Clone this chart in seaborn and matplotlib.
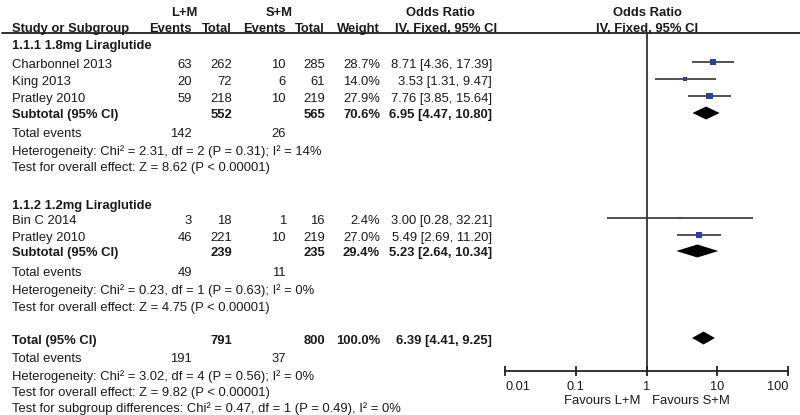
import numpy as np
import pandas as pd
import seaborn as sns
import matplotlib.pyplot as plt
from matplotlib.ticker import FixedLocator, FixedFormatter

sns.set_theme(style="white")
plt.rcParams['font.family'] = ['Liberation Sans', 'DejaVu Sans']

# ---- data ----
study = ["Charbonnel 2013", "King 2013", "Pratley 2010", "Bin C 2014", "Pratley 2010"]
group = [1, 1, 1, 2, 2]
ev_lm = [63, 20, 59, 3, 46]
tot_lm = [262, 72, 218, 18, 221]
ev_sm = [10, 6, 10, 1, 10]
tot_sm = [285, 61, 219, 16, 219]
weight = [28.7, 14.0, 27.9, 2.4, 27.0]
or_est = [8.71, 3.53, 7.76, 3.00, 5.49]
or_lo = [4.36, 1.31, 3.85, 0.28, 2.69]
or_hi = [17.39, 9.47, 15.64, 32.21, 11.20]

grp_title = ["1.1.1 1.8mg Liraglutide", "1.1.2 1.2mg Liraglutide"]
sub_tot_lm = [552, 239]
sub_tot_sm = [565, 235]
sub_weight = [70.6, 29.4]
sub_or = [6.95, 5.23]
sub_lo = [4.47, 2.64]
sub_hi = [10.80, 10.34]
sub_ev_lm = [142, 49]
sub_ev_sm = [26, 11]
sub_het = ["Heterogeneity: Chi² = 2.31, df = 2 (P = 0.31); I² = 14%",
           "Heterogeneity: Chi² = 0.23, df = 1 (P = 0.63); I² = 0%"]
sub_z = ["Test for overall effect: Z = 8.62 (P < 0.00001)",
         "Test for overall effect: Z = 4.75 (P < 0.00001)"]

all_tot_lm, all_tot_sm = 791, 800
all_weight = 100.0
all_or, all_lo, all_hi = 6.39, 4.41, 9.25
all_ev_lm, all_ev_sm = 191, 37
all_notes = ["Heterogeneity: Chi² = 3.02, df = 4 (P = 0.56); I² = 0%",
             "Test for overall effect: Z = 9.82 (P < 0.00001)",
             "Test for subgroup differences: Chi² = 0.47, df = 1 (P = 0.49), I² = 0%"]

ticks = [0.01, 0.1, 1, 10, 100]
tick_labels = ["0.01", "0.1", "1", "10", "100"]

# ---- layout (pixel rows) ----
W, H = 800, 415
study_y = [65, 82, 99, 221, 238]
grp_y = [46, 206]
sub_y = [115, 253]
subev_y = [134, 273]
het_y = [152, 291]
z_y = [168, 308]
tot_y = 341
totev_y, tothet_y, totz_y, subdiff_y = 359, 377, 393, 409
head_line = 33
axis_y = 371
x_left, x_right = 505, 788

col_evlm, col_totlm, col_evsm, col_totsm, col_w, col_or = 192, 232, 286, 325, 380, 492
txt = '#1a1a1a'
fs = 9.4

fig = plt.figure(figsize=(W / 100, H / 100), dpi=100)
ax_t = fig.add_axes([0, 0, 1, 1])
ax_t.set_xlim(0, W)
ax_t.set_ylim(H, 0)
ax_t.axis('off')


def t(x, y, s, ha='left', bold=False):
    ax_t.text(x, y, s, ha=ha, va='center', fontsize=fs, color=txt,
              fontweight='bold' if bold else 'normal')


# header
t(184, 13, "L+M", 'center', True)
t(279, 13, "S+M", 'center', True)
t(440, 13, "Odds Ratio", 'center', True)
t(647, 13, "Odds Ratio", 'center', True)
for x, s, ha in [(12, "Study or Subgroup", 'left'), (col_evlm, "Events", 'right'),
                 (col_totlm, "Total", 'right'), (col_evsm, "Events", 'right'),
                 (col_totsm, "Total", 'right'), (col_w, "Weight", 'right'),
                 (446, "IV, Fixed, 95% CI", 'center'), (647, "IV, Fixed, 95% CI", 'center')]:
    ax_t.text(x, 32, s, ha=ha, va='baseline', fontsize=fs, color=txt, fontweight='bold')
ax_t.plot([2, W], [head_line, head_line], color='#222222', lw=1.3)

# studies
for i in range(len(study)):
    y = study_y[i]
    t(12, y, study[i])
    t(col_evlm, y, str(ev_lm[i]), 'right')
    t(col_totlm, y, str(tot_lm[i]), 'right')
    t(col_evsm, y, str(ev_sm[i]), 'right')
    t(col_totsm, y, str(tot_sm[i]), 'right')
    t(col_w, y, f"{weight[i]:.1f}%", 'right')
    t(col_or, y, f"{or_est[i]:.2f} [{or_lo[i]:.2f}, {or_hi[i]:.2f}]", 'right')

for g in range(2):
    t(12, grp_y[g], grp_title[g], bold=True)
    y = sub_y[g]
    t(12, y, "Subtotal (95% CI)", bold=True)
    t(col_totlm, y, str(sub_tot_lm[g]), 'right', True)
    t(col_totsm, y, str(sub_tot_sm[g]), 'right', True)
    t(col_w, y, f"{sub_weight[g]:.1f}%", 'right', True)
    t(col_or, y, f"{sub_or[g]:.2f} [{sub_lo[g]:.2f}, {sub_hi[g]:.2f}]", 'right', True)
    t(12, subev_y[g], "Total events")
    t(col_evlm, subev_y[g], str(sub_ev_lm[g]), 'right')
    t(col_evsm, subev_y[g], str(sub_ev_sm[g]), 'right')
    t(12, het_y[g], sub_het[g])
    t(12, z_y[g], sub_z[g])

t(12, tot_y, "Total (95% CI)", bold=True)
t(col_totlm, tot_y, str(all_tot_lm), 'right', True)
t(col_totsm, tot_y, str(all_tot_sm), 'right', True)
t(col_w, tot_y, f"{all_weight:.1f}%", 'right', True)
t(col_or, tot_y, f"{all_or:.2f} [{all_lo:.2f}, {all_hi:.2f}]", 'right', True)
t(12, totev_y, "Total events")
t(col_evlm, totev_y, str(all_ev_lm), 'right')
t(col_evsm, totev_y, str(all_ev_sm), 'right')
t(12, tothet_y, all_notes[0])
t(12, totz_y, all_notes[1])
t(12, subdiff_y, all_notes[2])

# ---- forest panel ----
ax_f = fig.add_axes([x_left / W, (H - axis_y) / H, (x_right - x_left) / W, (axis_y - head_line) / H])
ax_f.patch.set_alpha(0)
ax_f.set_xscale('log')
ax_f.set_xlim(ticks[0], ticks[-1])
ax_f.set_ylim(axis_y, head_line)
for sp in ['top', 'left', 'right']:
    ax_f.spines[sp].set_visible(False)
ax_f.spines['bottom'].set_color('#222222')
ax_f.spines['bottom'].set_linewidth(1.3)
ax_f.xaxis.set_major_locator(FixedLocator(ticks))
ax_f.xaxis.set_major_formatter(FixedFormatter(tick_labels))
ax_f.xaxis.set_minor_locator(FixedLocator([]))
ax_f.tick_params(axis='x', which='major', direction='inout', length=7, width=1.3,
                 color='#222222', labelsize=9.2, labelcolor=txt, pad=4, bottom=True)
ax_f.set_yticks([])
labels = ax_f.get_xticklabels()
labels[0].set_ha('left')
labels[-1].set_ha('right')
ax_f.axvline(1, color='#222222', lw=1.2, zorder=1)

df = pd.DataFrame({"or": or_est, "lo": or_lo, "hi": or_hi, "w": weight,
                   "y": [v - 3 for v in study_y]})
ax_f.hlines(df["y"], df["lo"], df["hi"], color='#333333', lw=1.2, zorder=2)
k = 0.7
sns.scatterplot(data=df, x="or", y="y", size="w", sizes=(k * min(weight), k * max(weight)),
                size_norm=(min(weight), max(weight)), marker='s', color='#26449c',
                linewidth=0, legend=False, ax=ax_f, zorder=3)

dh = 6.5
diamonds = list(zip(sub_or, sub_lo, sub_hi, [v - 2 for v in sub_y])) + [(all_or, all_lo, all_hi, tot_y - 3)]
for est, lo, hi, y in diamonds:
    ax_f.fill([lo, est, hi, est], [y, y - dh, y, y + dh], color='black', lw=0, zorder=3)

ax_f.set_xlabel("")
ax_f.set_ylabel("")
ax_t.text(640, 401, "Favours L+M", ha='right', va='center', fontsize=fs, color=txt)
ax_t.text(652, 401, "Favours S+M", ha='left', va='center', fontsize=fs, color=txt)

fig.savefig("out.png", dpi=100)
